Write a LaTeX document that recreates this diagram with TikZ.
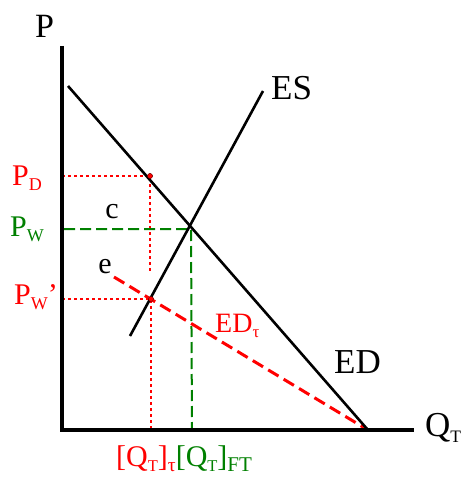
\documentclass[tikz,border=0pt]{standalone}
\usepackage{fontspec}
\usepackage{graphicx}
\setmainfont{Liberation Serif}
\definecolor{rd}{RGB}{255,0,0}
\definecolor{gr}{RGB}{0,128,0}
\newcommand\mysb[2][0.6]{\raisebox{-0.18em}{\scalebox{#1}{#2}}}
\begin{document}
\begin{tikzpicture}[x=1pt,y=-1pt,
  lbl/.style={inner sep=0pt,anchor=base west,font=\fontsize{30}{32}\selectfont},
  big/.style={font=\fontsize{35}{37}\selectfont},
  axis/.style={line width=4pt},
  curve/.style={line width=2.6pt},
  rdot/.style={rd,dash pattern=on 3pt off 3pt,line width=2pt},
  gdash/.style={gr,dash pattern=on 11pt off 5pt,line width=2pt},
  rdash/.style={rd,dash pattern=on 12pt off 6pt,line width=3pt},
  pt/.style={circle,fill=rd,draw=black!60!red,inner sep=0pt,minimum size=5pt}]
\useasboundingbox (0,0) rectangle (470,484);
% coordinates
\coordinate (O) at (62,430);
\coordinate (Ytop) at (62,46);
\coordinate (Xend) at (414,430);
\coordinate (EDa) at (68,86);
\coordinate (EDb) at (368,430);
\coordinate (ESa) at (130,336);
\coordinate (ESb) at (263,91);
\coordinate (E) at (191,229);
\coordinate (Ea) at (114,277);
\node[pt] (D) at (150,176) {};
\node[pt] (W) at (151,299) {};
\coordinate (Dy) at (62,176);
\coordinate (Dlow) at (150,273);
\coordinate (Wy) at (62,299);
\coordinate (Wx) at (151,430);
\coordinate (Py) at (64,229);
\coordinate (Ex) at (192,430);
% guides
\draw[rdot] (Dy) -- (D.center) -- (Dlow);
\draw[rdot] (Wy) -- (W.center) -- (Wx);
\draw[gdash] (Py) -- (E) -- (Ex);
% curves
\draw[rdash] (Ea) -- (EDb);
\draw[curve] (EDa) -- (EDb);
\draw[curve] (ESa) -- (ESb);
\node[pt] at (D) {};
\node[pt] at (W) {};
% axes
\draw[axis] (Ytop) -- (O) -- (Xend);
% labels
\node[lbl,font=\fontsize{34}{36}\selectfont] (lP) at (35,38) {P};
\node[lbl,big] (lES) at (271,100) {ES};
\node[lbl,big] (lED) at (334,373) {ED};
\node[lbl,big] (lQ) at (425,436) {Q\mysb[0.5]{T}};
\node[lbl,rd] (lPD) at (12,185) {P\mysb{D}};
\node[lbl,gr] (lPW) at (10,236) {P\mysb{W}};
\node[lbl,rd] (lPW2) at (14,304) {P\mysb{W}'};
\node[lbl,anchor=base] (lc) at (112,218) {c};
\node[lbl,anchor=base] (le) at (105,273) {e};
\node[lbl,rd,font=\fontsize{28}{30}\selectfont] (lEDt) at (215,332) {ED\mysb{τ}};
\node[lbl] (lQQ) at (116,466) {\textcolor{rd}{[Q\mysb[0.55]{T}]\mysb[0.65]{τ}}\textcolor{gr}{[Q\mysb[0.55]{T}]\mysb[0.7]{FT}}};
\end{tikzpicture}
\end{document}
